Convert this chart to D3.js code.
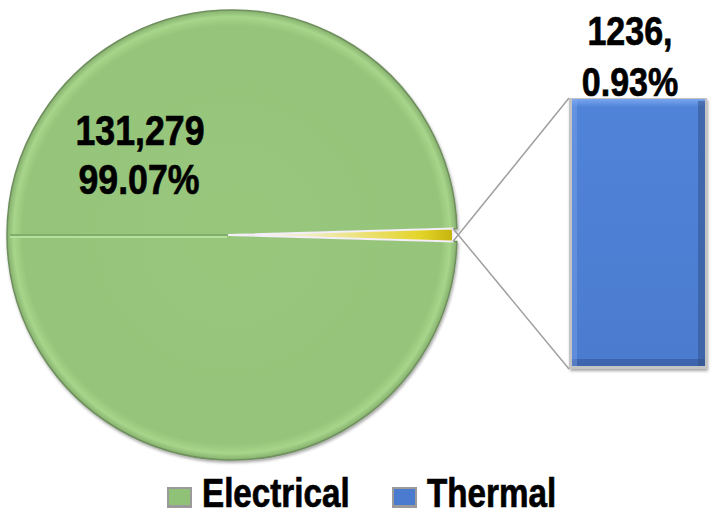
<!DOCTYPE html>
<html>
<head>
<meta charset="utf-8">
<script src="https://cdn.jsdelivr.net/npm/d3@7/dist/d3.min.js"></script>
<style>
  html, body { margin: 0; padding: 0; background: #fff; }
  svg { display: block; }
  text { font-family: "Liberation Sans", Arial, sans-serif; font-weight: bold; fill: #000; stroke: #000; stroke-width: 0.7px; }
</style>
</head>
<body>
<svg id="chart" width="718" height="520"></svg>
<script>
// ---- data ----
const categories = ["Electrical", "Thermal"];
const values = [131279, 1236];
const percents = ["99.07%", "0.93%"];
const valueLabels = ["131,279", "1236,"];

// ---- layout ----
const cx = 232, cy = 235, R = 225;
const NARROW = 0.83;
const svg = d3.select("#chart");
const defs = svg.append("defs");

function narrowText(sel, x, y, size, str, anchor) {
  return sel.append("text")
    .attr("transform", `translate(${x},${y}) scale(${NARROW},1)`)
    .attr("text-anchor", anchor || "middle")
    .attr("font-size", size)
    .text(str);
}

// gradients / filters
const gGreen = defs.append("radialGradient").attr("id", "gGreen")
  .attr("cx", "50%").attr("cy", "50%").attr("r", "50%");
gGreen.append("stop").attr("offset", "0%").attr("stop-color", "#98c77c");
gGreen.append("stop").attr("offset", "93%").attr("stop-color", "#95c47a");
gGreen.append("stop").attr("offset", "97%").attr("stop-color", "#a7d68b");
gGreen.append("stop").attr("offset", "100%").attr("stop-color", "#86b06d");

const gYellow = defs.append("linearGradient").attr("id", "gYellow")
  .attr("gradientUnits", "userSpaceOnUse")
  .attr("x1", 0).attr("x2", R).attr("y1", 0).attr("y2", 0);
gYellow.append("stop").attr("offset", "0%").attr("stop-color", "#f3f3ea");
gYellow.append("stop").attr("offset", "35%").attr("stop-color", "#f1eec2");
gYellow.append("stop").attr("offset", "62%").attr("stop-color", "#ebe072");
gYellow.append("stop").attr("offset", "85%").attr("stop-color", "#e4d52a");
gYellow.append("stop").attr("offset", "100%").attr("stop-color", "#c4b40c");

const gBlue = defs.append("linearGradient").attr("id", "gBlue")
  .attr("x1", "0").attr("x2", "0").attr("y1", "0").attr("y2", "1");
gBlue.append("stop").attr("offset", "0%").attr("stop-color", "#7aa5ee");
gBlue.append("stop").attr("offset", "3%").attr("stop-color", "#5084d8");
gBlue.append("stop").attr("offset", "100%").attr("stop-color", "#4a7bcf");

const shadow = defs.append("filter").attr("id", "shadow")
  .attr("x", "-10%").attr("y", "-10%").attr("width", "120%").attr("height", "120%");
shadow.append("feDropShadow").attr("dx", 1).attr("dy", 2).attr("stdDeviation", 1.5)
  .attr("flood-color", "#000").attr("flood-opacity", 0.35);

// ---- pie ----
const total = d3.sum(values);
const theta = values[1] / total * 2 * Math.PI;
const pie = d3.pie().sort(null)
  .startAngle(Math.PI / 2 + theta / 2)
  .endAngle(Math.PI / 2 + theta / 2 + 2 * Math.PI);
const arcs = pie(values);
const arc = d3.arc().innerRadius(0).outerRadius(R);

const pieG = svg.append("g").attr("transform", `translate(${cx},${cy})`);

// Electrical slice
pieG.append("path")
  .attr("d", arc(arcs[0]))
  .attr("fill", "url(#gGreen)")
  .attr("stroke", "#6f8f5e")
  .attr("stroke-width", 1.5)
  .attr("filter", "url(#shadow)");

// bevel-like seam on the left half
pieG.append("line").attr("x1", -R + 3).attr("x2", 0).attr("y1", 0).attr("y2", 0)
  .attr("stroke", "#82ad6c").attr("stroke-width", 2);
pieG.append("line").attr("x1", -R + 3).attr("x2", -5).attr("y1", 2).attr("y2", 2)
  .attr("stroke", "#b3e29a").attr("stroke-width", 2);

// Thermal slice
svg.append("path")
  .attr("d", arc(arcs[1]))
  .attr("transform", `translate(${cx - 4},${cy})`)
  .attr("fill", "url(#gYellow)")
  .attr("stroke", "#f4eef8")
  .attr("stroke-width", 2);

// ---- bar (secondary plot) ----
const barX = d3.scaleBand().domain([categories[1]]).range([569, 707]).padding(0);
const barY = d3.scaleLinear().domain([0, values[1]]).range([369, 98]);

const bx = barX(categories[1]), bw = barX.bandwidth();
const by = barY(values[1]), bh = barY(0) - barY(values[1]);

// connector lines
const a0 = arcs[1].startAngle, a1 = arcs[1].endAngle;
const p0 = [cx - 4 + R * Math.sin(a0), cy - R * Math.cos(a0)];
const p1 = [cx - 4 + R * Math.sin(a1), cy - R * Math.cos(a1)];
svg.append("line").attr("x1", p1[0]).attr("y1", p1[1]).attr("x2", bx).attr("y2", by)
  .attr("stroke", "#a0a0a0").attr("stroke-width", 1.5);
svg.append("line").attr("x1", p0[0]).attr("y1", p0[1]).attr("x2", bx).attr("y2", by + bh)
  .attr("stroke", "#a0a0a0").attr("stroke-width", 1.5);

const barG = svg.append("g");
barG.append("rect").attr("x", bx).attr("y", by).attr("width", bw).attr("height", bh)
  .attr("fill", "#c4c4c4").attr("filter", "url(#shadow)");
barG.append("rect").attr("x", bx + 3).attr("y", by + 1).attr("width", bw - 5).attr("height", bh - 4)
  .attr("fill", "url(#gBlue)");
barG.append("rect").attr("x", bx + bw - 9).attr("y", by + 3).attr("width", 7).attr("height", bh - 6)
  .attr("fill", "#34528a").attr("opacity", 0.55);
barG.append("rect").attr("x", bx + 3).attr("y", by + bh - 10).attr("width", bw - 5).attr("height", 7)
  .attr("fill", "#2f4c82").attr("opacity", 0.45);
barG.append("rect").attr("x", bx + 3).attr("y", by + 1).attr("width", 5).attr("height", bh - 4)
  .attr("fill", "#86adf0").attr("opacity", 0.35);

// ---- labels ----
narrowText(svg, 140, 145, 43, valueLabels[0]);
narrowText(svg, 139, 194, 43, percents[0]);
narrowText(svg, 630, 45, 41, valueLabels[1]);
narrowText(svg, 630, 96, 41, percents[1]);

// ---- legend ----
const legendColors = ["#8fc276", "#4b7bcf"];
const legendX = [167, 392];
categories.forEach((c, i) => {
  const g = svg.append("g").attr("transform", `translate(${legendX[i]},487)`);
  g.append("rect").attr("width", 25).attr("height", 21).attr("fill", "#9a9a9a");
  g.append("rect").attr("x", 2).attr("y", 2).attr("width", 21).attr("height", 16).attr("fill", legendColors[i]);
  narrowText(g, 35, 20, 40, c, "start");
});
</script>
</body>
</html>
